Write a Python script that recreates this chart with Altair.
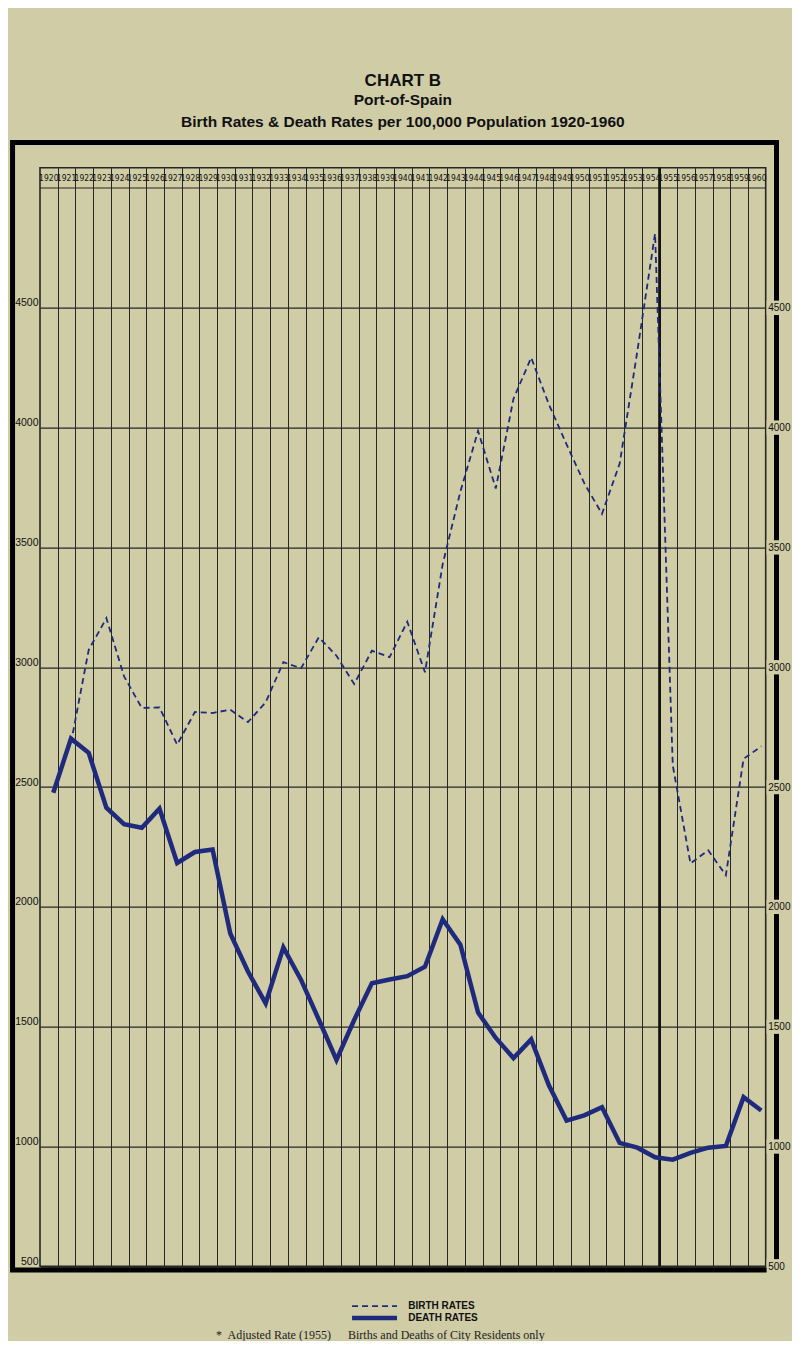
import altair as alt
import pandas as pd

# ---------------- data ----------------
years = list(range(1920, 1961))
death_rates = [2476, 2702, 2643, 2414, 2345, 2330, 2410, 2183, 2229, 2239,
               1889, 1730, 1597, 1831, 1695, 1530, 1361, 1528, 1681, 1697,
               1711, 1750, 1948, 1842, 1559, 1453, 1369, 1447, 1255, 1108,
               1130, 1164, 1015, 995, 955, 945, 973, 995, 1002, 1206, 1150]
birth_years = list(range(1921, 1961))
birth_rates = [2684, 3072, 3205, 2962, 2830, 2832, 2677, 2813, 2809,
               2823, 2771, 2854, 3021, 2996, 3125, 3048, 2930, 3069, 3042,
               3190, 2979, 3430, 3733, 3986, 3746, 4120, 4292, 4097, 3930,
               3768, 3640, 3850, 4320, 4810, 2590, 2181, 2236, 2132, 2618, 2670]
y_ticks = [500, 1000, 1500, 2000, 2500, 3000, 3500, 4000, 4500]
adjusted_from = 1955

# ---------------- styling ----------------
PAPER = "#cfcca6"
INK = "#1f2a7c"
GRID = "#262626"
NARROW = "'Liberation Sans Narrow', 'DejaVu Sans Condensed', sans-serif"
SANS = "'Liberation Sans', Arial, sans-serif"
SERIF = "'Liberation Serif', 'DejaVu Serif', serif"

N = len(years)
XS = alt.Scale(domain=[0, N], nice=False, zero=False)
YS = alt.Scale(domain=[500, 5084.7], nice=False, zero=False)

first = years[0]
death_df = pd.DataFrame({"year": years, "rate": death_rates})
death_df["pos"] = death_df["year"] - first + 0.75
birth_df = pd.DataFrame({"year": birth_years, "rate": birth_rates})
birth_df["pos"] = birth_df["year"] - first + 0.75
head_df = pd.DataFrame({"year": years})
head_df["pos"] = head_df["year"] - first + 0.5
head_df["label"] = head_df["year"].astype(str)
tick_df = pd.DataFrame({"v": y_ticks})

x_axis = alt.Axis(values=list(range(1, N)), grid=True, gridColor=GRID, gridWidth=1,
                  gridOpacity=1, labels=False, ticks=False, domain=False, title=None)
y_left = alt.Axis(values=y_ticks, format="d", orient="left", grid=True, gridColor=GRID,
                  gridWidth=1.2, gridOpacity=1, ticks=False, domain=False, title=None,
                  labelFont=SANS, labelFontSize=10.5, labelColor="#111",
                  labelBaseline="bottom", labelPadding=2)
y_right = alt.Axis(values=y_ticks, format="d", orient="right", grid=False, ticks=False,
                   domain=False, title=None, labelFont=SANS, labelFontSize=10,
                   labelColor="#111", labelBaseline="middle", labelPadding=2, zindex=2)

# outer black frame
frame = alt.Chart(tick_df.head(1)).mark_rect(fillOpacity=0, stroke="black", strokeWidth=5).encode(
    x=alt.X(datum=-1.55, scale=XS, axis=None),
    x2=alt.X2(datum=41.61),
    y=alt.Y(datum=5190, scale=YS, axis=None),
    y2=alt.Y2(datum=484.6),
)

# paper patches behind right-hand labels
patches = alt.Chart(tick_df).transform_calculate(
    lo="datum.v - 30", hi="datum.v + 30"
).mark_rect(color=PAPER).encode(
    x=alt.X(datum=41.05, scale=XS, axis=None),
    x2=alt.X2(datum=42.4),
    y=alt.Y("lo:Q", scale=YS, axis=None),
    y2="hi:Q",
)

death = alt.Chart(death_df).mark_line(color=INK, strokeWidth=4.5, strokeJoin="miter").encode(
    x=alt.X("pos:Q", scale=XS, axis=x_axis),
    y=alt.Y("rate:Q", scale=YS, axis=y_left),
)

birth = alt.Chart(birth_df).mark_line(color=INK, strokeWidth=1.8, strokeDash=[6, 4]).encode(
    x=alt.X("pos:Q", scale=XS, axis=None),
    y=alt.Y("rate:Q", scale=YS, axis=y_right),
)

header_rule = alt.Chart(pd.DataFrame({"v": [5000]})).mark_rule(color=GRID, strokeWidth=1.2).encode(
    y=alt.Y("v:Q", scale=YS, axis=None),
)

sep_rule = alt.Chart(pd.DataFrame({"year": [adjusted_from]})).transform_calculate(
    b=f"datum.year - {first}"
).mark_rule(color="#111", strokeWidth=2.6).encode(
    x=alt.X("b:Q", scale=XS, axis=None),
)

header = alt.Chart(head_df).mark_text(font=NARROW, fontSize=8.5, color="#111").encode(
    x=alt.X("pos:Q", scale=XS, axis=None),
    y=alt.Y(datum=5042, scale=YS, axis=None),
    text="label:N",
)

# manual legend and footnote
leg_birth_line = alt.Chart(tick_df.head(1)).mark_rule(color=INK, strokeWidth=1.8, strokeDash=[6, 4]).encode(
    x=alt.X(datum=17.63, scale=XS, axis=None), x2=alt.X2(datum=20.17),
    y=alt.Y(datum=334, scale=YS, axis=None),
)
leg_death_line = alt.Chart(tick_df.head(1)).mark_rule(color=INK, strokeWidth=4.5).encode(
    x=alt.X(datum=17.63, scale=XS, axis=None), x2=alt.X2(datum=20.17),
    y=alt.Y(datum=284, scale=YS, axis=None),
)
leg_text = alt.Chart(pd.DataFrame({"t": ["BIRTH RATES", "DEATH RATES"], "v": [334, 284]})).mark_text(
    font=SANS, fontSize=10, fontWeight="bold", color="#111", align="left", baseline="middle"
).encode(
    x=alt.X(datum=20.8, scale=XS, axis=None),
    y=alt.Y("v:Q", scale=YS, axis=None),
    text="t:N",
)
foot = alt.Chart(pd.DataFrame({"t": ["*", "Adjusted Rate (1955)", "Births and Deaths of City Residents only"],
                               "p": [9.95, 10.6, 17.4]})).mark_text(
    font=SERIF, fontSize=12, color="#222", align="left", baseline="middle"
).encode(
    x=alt.X("p:Q", scale=XS, axis=None),
    y=alt.Y(datum=212, scale=YS, axis=None),
    text="t:N",
)

chart = alt.layer(
    frame, patches, header_rule, sep_rule, death, birth, header,
    leg_birth_line, leg_death_line, leg_text, foot,
).resolve_axis(x="independent", y="independent").properties(
    width=725.7,
    height=1098.6,
    padding={"left": 32, "top": 159.7, "right": 26.3, "bottom": 74.7},
    autosize=alt.AutoSizeParams(type="none"),
    title=alt.Title(
        text="CHART B",
        subtitle=["Port-of-Spain", "Birth Rates & Death Rates per 100,000 Population 1920-1960"],
        anchor="middle", font=SANS, fontSize=17, fontWeight="bold", color="#111",
        subtitleFont=SANS, subtitleFontSize=15.5, subtitleFontWeight="bold",
        subtitleColor="#111", subtitlePadding=3, subtitleLineHeight=22, offset=8,
    ),
).configure(background=PAPER).configure_view(stroke=GRID, strokeWidth=1.6)

chart.save("out.html", embed_options={"renderer": "svg", "actions": False})
